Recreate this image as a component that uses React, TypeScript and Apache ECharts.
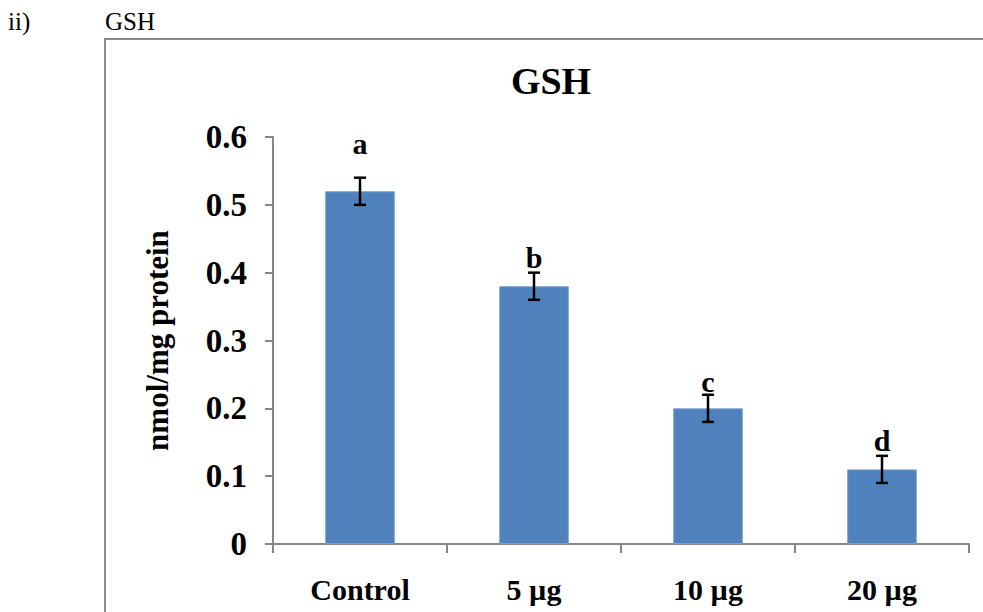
import React, { useEffect, useRef } from "react";
import * as echarts from "echarts";

const categories = ["Control", "5 µg", "10 µg", "20 µg"];
const values = [0.52, 0.38, 0.2, 0.11];
const errors = [0.02, 0.02, 0.02, 0.02];
const letters = ["a", "b", "c", "d"];
const letterLevels = [0.59, 0.422, 0.24, 0.152];
const yMin = 0;
const yMax = 0.6;
const yStep = 0.1;

const SERIF = "Liberation Serif";

export default function App() {
  const ref = useRef<HTMLDivElement>(null);
  useEffect(() => {
    document.body.style.margin = "0";
    const chart = echarts.init(ref.current!, null, { renderer: "svg" });
    const option: any = {
      animation: false,
      backgroundColor: "#ffffff",
      title: [
        {
          text: "GSH",
          left: 546,
          top: 57,
          textAlign: "center",
          textStyle: { fontFamily: SERIF, fontWeight: "bold", fontSize: 38, color: "#000" },
        },
        {
          text: "ii)",
          left: 8,
          top: 9,
          padding: 0,
          textStyle: { fontFamily: SERIF, fontWeight: "normal", fontSize: 25, color: "#000" },
        },
        {
          text: "GSH",
          left: 105,
          top: 9,
          padding: 0,
          textStyle: { fontFamily: SERIF, fontWeight: "normal", fontSize: 25, color: "#000" },
        },
      ],
      graphic: [
        {
          type: "rect",
          shape: { x: 105, y: 39, width: 1000, height: 700 },
          style: { fill: "none", stroke: "#8a8a8a", lineWidth: 2 },
          z: 0,
        },
      ],
      grid: { left: 273, right: 14, top: 137, bottom: 68 },
      xAxis: {
        type: "category",
        data: categories,
        boundaryGap: true,
        axisLine: { lineStyle: { color: "#868686", width: 2 } },
        axisTick: { show: true, length: 9, lineStyle: { color: "#868686", width: 2 } },
        axisLabel: {
          margin: 30,
          fontFamily: SERIF,
          fontWeight: "bold",
          fontSize: 30,
          color: "#000",
        },
      },
      yAxis: {
        type: "value",
        min: yMin,
        max: yMax,
        interval: yStep,
        name: "nmol/mg protein",
        nameLocation: "middle",
        nameGap: 100,
        nameRotate: 90,
        nameTextStyle: { fontFamily: SERIF, fontWeight: "bold", fontSize: 31, color: "#000" },
        axisLine: { show: true, lineStyle: { color: "#868686", width: 2 } },
        axisTick: { show: true, length: 8, lineStyle: { color: "#868686", width: 2 } },
        splitLine: { show: false },
        axisLabel: {
          margin: 26,
          fontFamily: SERIF,
          fontWeight: "bold",
          fontSize: 33,
          color: "#000",
          formatter: (v: number) => (v === 0 ? "0" : v.toFixed(1)),
        },
      },
      series: [
        {
          type: "bar",
          data: values,
          barWidth: "40%",
          itemStyle: { color: "#4F81BD", borderColor: "#7DA0CE", borderWidth: 1 },
        },
        {
          type: "custom",
          data: values.map((v, i) => [i, v - errors[i], v + errors[i]]),
          z: 5,
          renderItem: (params: any, api: any) => {
            const x = api.value(0);
            const lo = api.coord([x, api.value(1)]);
            const hi = api.coord([x, api.value(2)]);
            const cap = 6;
            const style = { stroke: "#000", lineWidth: 2.5 };
            return {
              type: "group",
              children: [
                { type: "line", shape: { x1: lo[0], y1: lo[1], x2: hi[0], y2: hi[1] }, style },
                { type: "line", shape: { x1: hi[0] - cap, y1: hi[1], x2: hi[0] + cap, y2: hi[1] }, style },
                { type: "line", shape: { x1: lo[0] - cap, y1: lo[1], x2: lo[0] + cap, y2: lo[1] }, style },
              ],
            };
          },
        },
        {
          type: "custom",
          data: letterLevels.map((v, i) => [i, v, letters[i]]),
          z: 6,
          renderItem: (params: any, api: any) => {
            const p = api.coord([api.value(0), api.value(1)]);
            return {
              type: "text",
              x: p[0],
              y: p[1],
              style: {
                text: letters[params.dataIndex],
                fontFamily: SERIF,
                fontWeight: "bold",
                fontSize: 30,
                fill: "#000",
                align: "center",
                verticalAlign: "middle",
              },
            };
          },
        },
      ],
    };
    chart.setOption(option);
    return () => chart.dispose();
  }, []);
  return <div ref={ref} style={{ width: 983, height: 612 }} />;
}
